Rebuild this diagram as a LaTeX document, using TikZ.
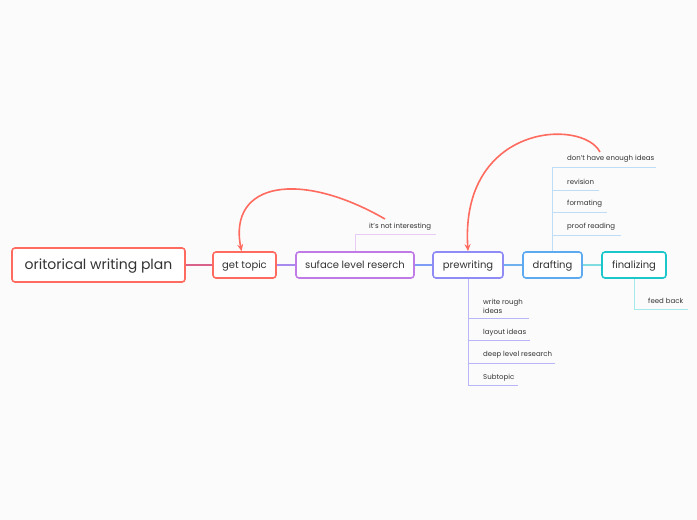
\documentclass[tikz,border=0pt]{standalone}
\usepackage{fontspec}
\setmainfont{Poppins}
\usetikzlibrary{arrows.meta}
\definecolor{bgcol}{HTML}{FBFBFB}
\definecolor{txtcol}{HTML}{333333}
\definecolor{mapred}{HTML}{FF6B5F}
\definecolor{mappurple}{HTML}{C07BE6}
\definecolor{mapviolet}{HTML}{8F8CF5}
\definecolor{mapblue}{HTML}{5DAAF0}
\definecolor{mapteal}{HTML}{1CC7CB}
\definecolor{linkA}{HTML}{D9628A}
\definecolor{linkB}{HTML}{A889EE}
\definecolor{linkC}{HTML}{7E9BF5}
\definecolor{linkD}{HTML}{70B0EE}
\definecolor{linkE}{HTML}{7FDCE0}
\definecolor{purplelt}{HTML}{E8CCF6}
\definecolor{violetlt}{HTML}{B8B6F8}
\definecolor{bluelt}{HTML}{C0DDF8}
\definecolor{teallt}{HTML}{A6E9EB}

\begin{document}
\begin{tikzpicture}[x=1pt,y=-1pt,
  topic/.style={draw,line width=1.6pt,rounded corners=3pt,fill=white,text=txtcol,
    minimum height=26pt,inner sep=0pt,text height=7pt,text depth=1pt,
    font=\fontsize{10}{12}\selectfont},
  sub/.style={anchor=west,text=txtcol,inner sep=0pt,align=left,
    font=\fontsize{7}{9}\selectfont},
  link/.style={line width=1.6pt},
  leaf/.style={line width=0.9pt},
  rel/.style={mapred,line width=1.6pt,-{Stealth[length=7pt,width=6pt]}}]
  \fill[bgcol] (0,0) rectangle (697,520);
  \useasboundingbox (0,0) rectangle (697,520);
  % main topics
  \node[topic,draw=mapred,minimum width=173pt,minimum height=34pt,text height=10pt,
    font=\fontsize{14}{16}\selectfont] (root) at (98.5,265) {oritorical writing plan};
  \node[topic,draw=mapred,minimum width=63pt] (gt) at (244.5,265) {get topic};
  \node[topic,draw=mappurple,minimum width=118pt] (sup) at (355,265) {suface level reserch};
  \node[topic,draw=mapviolet,minimum width=70pt] (pre) at (468,265) {prewriting};
  \node[topic,draw=mapblue,minimum width=59pt] (dra) at (552.5,265) {drafting};
  \node[topic,draw=mapteal,minimum width=64pt] (fin) at (634,265) {finalizing};
  \draw[link,linkA] (root) -- (gt);
  \draw[link,linkB] (gt) -- (sup);
  \draw[link,linkC] (sup) -- (pre);
  \draw[link,linkD] (pre) -- (dra);
  \draw[link,linkE] (dra) -- (fin);
  % subtopics
  \node[sub] (nint) at (369,227) {it's not interesting};
  \coordinate (s1) at (436,234);
  \draw[leaf,purplelt] (sup) |- (s1);
  \node[sub] (rough) at (483,306) {write rough\\ideas};
  \node[sub] (lay) at (483,333) {layout ideas};
  \node[sub] (deep) at (483,355) {deep level research};
  \node[sub] (subt) at (483,378) {Subtopic};
  \coordinate (w1) at (529,318);
  \coordinate (w2) at (530,340);
  \coordinate (w3) at (555,363);
  \coordinate (w4) at (518,385);
  \foreach \e in {w1,w2,w3,w4}
    \draw[leaf,violetlt] (pre) |- (\e);
  \node[sub] (enough) at (567,159) {don't have enough ideas};
  \node[sub] (rev) at (567,182) {revision};
  \node[sub] (form) at (567,204) {formating};
  \node[sub] (proof) at (567,227) {proof reading};
  \coordinate (d1) at (656,167);
  \coordinate (d2) at (599,190);
  \coordinate (d3) at (607,212);
  \coordinate (d4) at (621,235);
  \foreach \e in {d1,d2,d3,d4}
    \draw[leaf,bluelt] (dra) |- (\e);
  \node[sub] (feed) at (648,301) {feed back};
  \coordinate (f1) at (688,309);
  \draw[leaf,teallt] (fin) |- (f1);
  % relationships
  \coordinate (r1) at (385,219);
  \coordinate (r2) at (600,152);
  \draw[rel] (r1) .. controls (300,170) and (228,182) .. ([xshift=-3pt]gt.north);
  \draw[rel] (r2) .. controls (582,118) and (460,124) .. (pre.north);
\end{tikzpicture}
\end{document}
